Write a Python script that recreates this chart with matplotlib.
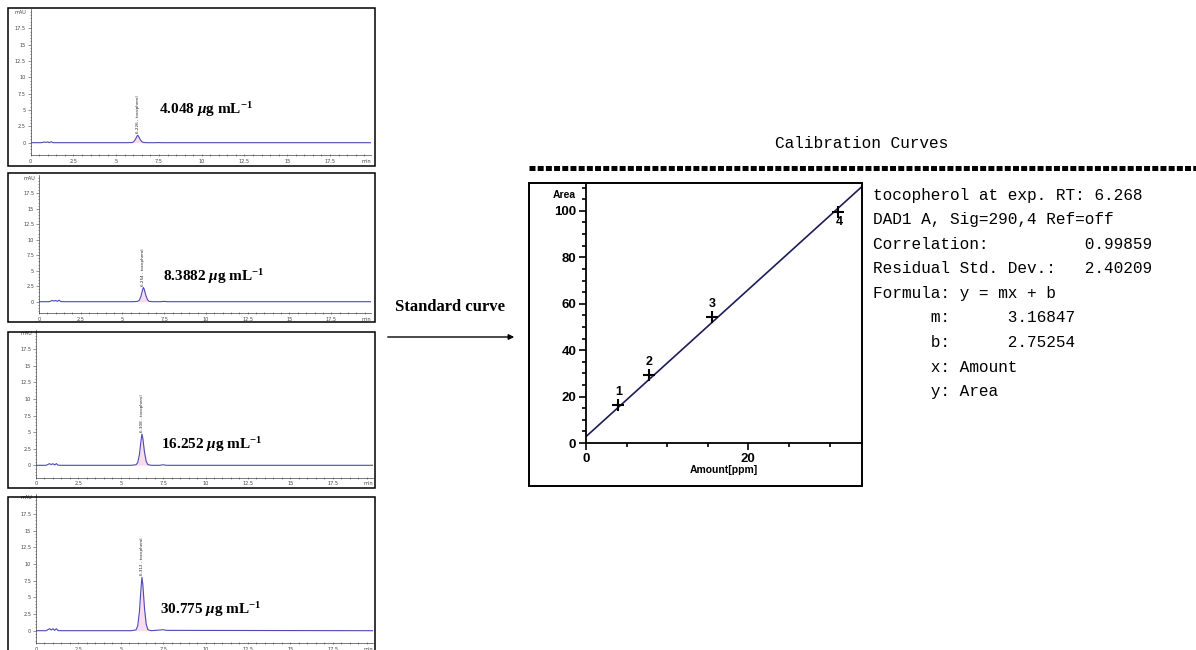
import numpy as np
import matplotlib.pyplot as plt
from matplotlib.lines import Line2D
from matplotlib.patches import Rectangle, FancyArrowPatch
from matplotlib.ticker import MultipleLocator, FixedLocator

W, H = 1196, 650

# chromatogram traces (retention time in min, signal in mAU)
rt = [0.0, 0.6, 0.8, 0.9, 1.0, 1.1, 1.2, 1.3, 1.5, 5.6, 5.9, 6.0, 6.1, 6.2,
      6.25, 6.3, 6.4, 6.5, 6.6, 6.8, 7.3, 7.5, 7.7, 19.9]
sig_1 = [0, 0, 0.1, 0.05, 0.12, 0.0, 0.15, 0.0, 0, 0, 0.02, 0.1, 0.4, 0.9,
         1.15, 1.0, 0.5, 0.15, 0.03, 0, 0, 0.02, 0, 0]
sig_2 = [0, 0, 0.2, 0.1, 0.2, 0.05, 0.25, 0.02, 0, 0, 0.05, 0.2, 0.8, 1.9,
         2.3, 2.0, 1.0, 0.3, 0.05, 0, 0, 0.05, 0, 0]
sig_3 = [0, 0, 0.25, 0.1, 0.25, 0.05, 0.25, 0.02, 0, 0, 0.08, 0.4, 1.6, 3.8,
         4.7, 4.1, 2.0, 0.6, 0.1, 0, 0, 0.08, 0, 0]
sig_4 = [0, 0, 0.3, 0.1, 0.3, 0.05, 0.3, 0.02, 0, 0, 0.12, 0.7, 2.8, 6.5,
         8.0, 7.0, 3.4, 1.0, 0.15, 0, 0.1, 0.15, 0.05, 0]
signals = [sig_1, sig_2, sig_3, sig_4]
peak_names = ['6.226 - tocopherol', '6.254 - tocopherol',
              '6.308 - tocopherol', '6.312 - tocopherol']
conc_labels = ['4.048', '8.3882', '16.252', '30.775']

# calibration points
cal_amount = [4.0, 7.8, 15.5, 31.0]
cal_area = [16.3, 29.4, 54.1, 99.7]
fit_m = 3.16847
fit_b = 2.75254

report_lines = [
    'tocopherol at exp. RT: 6.268',
    'DAD1 A, Sig=290,4 Ref=off',
    'Correlation:          0.99859',
    'Residual Std. Dev.:   2.40209',
    'Formula: y = mx + b',
    '      m:      3.16847',
    '      b:      2.75254',
    '      x: Amount',
    '      y: Area',
]

plt.rcParams['mathtext.fontset'] = 'custom'
plt.rcParams['mathtext.rm'] = 'Liberation Serif:bold'
plt.rcParams['mathtext.it'] = 'Liberation Serif:italic:bold'
plt.rcParams['mathtext.bf'] = 'Liberation Serif:bold'
plt.rcParams['lines.scale_dashes'] = False

fig = plt.figure(figsize=(W / 100, H / 100), dpi=100)


def box(x0, y0, x1, y1, lw=1.0):
    fig.add_artist(Rectangle((x0 / W, 1 - y1 / H), (x1 - x0) / W, (y1 - y0) / H,
                             transform=fig.transFigure, fill=False,
                             ec='black', lw=lw))


def px_axes(l, t, r, b):
    return fig.add_axes([l / W, 1 - b / H, (r - l) / W, (b - t) / H])


def ftext(x, y, s, **kw):
    fig.text(x / W, 1 - y / H, s, **kw)


# frame box, time-zero px, px per min, zero-signal px, px per mAU, label pos
panels = [
    ((8, 8, 375, 166), 30.7, 17.1, 142.7, 6.54, (7.5, 5.0)),
    ((8, 173, 375, 322), 39.0, 16.7, 301.7, 6.2, (7.4, 4.0)),
    ((8, 332, 375, 488), 36.0, 16.95, 465.3, 6.64, (7.4, 3.2)),
    ((8, 497, 375, 662), 36.0, 16.95, 630.7, 6.68, (7.3, 3.1)),
]

t = np.array(rt)
for i, (frame, t0, ppx, zero, ppu, lab) in enumerate(panels):
    box(*frame, lw=1.1)
    ax = px_axes(t0, zero - 20.4 * ppu, t0 + 19.9 * ppx, zero + 1.9 * ppu)
    s = np.array(signals[i])
    ax.plot(t, s, color='#4b4bb5', lw=0.8)
    pk = (t >= 5.9) & (t <= 6.6)
    ax.fill_between(t[pk], 0, s[pk], color='#f0a0d0', alpha=0.35, lw=0)
    ax.set_xlim(0, 19.9)
    ax.set_ylim(-1.9, 20.4)
    for sp in ['top', 'right']:
        ax.spines[sp].set_visible(False)
    for sp in ['left', 'bottom']:
        ax.spines[sp].set_linewidth(0.5)
        ax.spines[sp].set_color('#444444')
    ax.xaxis.set_major_locator(MultipleLocator(2.5))
    ax.xaxis.set_minor_locator(MultipleLocator(0.5))
    ax.yaxis.set_major_locator(FixedLocator(np.arange(0, 17.6, 2.5)))
    ax.yaxis.set_minor_locator(MultipleLocator(0.5))
    ax.xaxis.set_major_formatter(lambda v, p: f'{v:g}')
    ax.yaxis.set_major_formatter(lambda v, p: f'{v:g}')
    ax.tick_params(which='both', labelsize=3.6, colors='#444444', width=0.4,
                   pad=1.5)
    ax.tick_params(which='major', length=2)
    ax.tick_params(which='minor', length=1)
    ax.tick_params(axis='x', which='both', direction='inout')
    ax.patch.set_alpha(0)
    ax.text(-0.25, 19.9, 'mAU', fontsize=3.6, color='#444444',
            ha='right', va='center')
    ax.annotate('min', (19.9, 0), xycoords=('data', 'axes fraction'),
                xytext=(0, -2.5), textcoords='offset points', fontsize=3.6,
                color='#444444', ha='right', va='top')
    ipk = int(np.argmax(s))
    ax.text(t[ipk], s[ipk] + 0.3, peak_names[i], rotation=90, fontsize=3.0,
            ha='center', va='bottom', color='#222222')
    ax.text(lab[0], lab[1], conc_labels[i] + r' $\mu$g mL$^{-1}$',
            fontsize=11, family='Liberation Serif', weight='bold',
            ha='left', va='center')

# arrow and caption
ftext(395, 307, 'Standard curve', fontsize=12, family='Liberation Serif',
      weight='bold', ha='left', va='center')
fig.add_artist(FancyArrowPatch((385 / W, 1 - 337 / H), (517 / W, 1 - 337 / H),
                               transform=fig.transFigure, arrowstyle='-|>',
                               mutation_scale=8, lw=1.0, color='black'))

# calibration report
mono = 'Liberation Mono'
ftext(775, 143, 'Calibration Curves', fontsize=11.6, family=mono,
      ha='left', va='center')
fig.add_artist(Line2D([529 / W, 1], [1 - 167.5 / H] * 2,
                      transform=fig.transFigure, color='black', lw=3.6,
                      dashes=(4.3, 1.6), dash_capstyle='butt'))
for k, line in enumerate(report_lines):
    ftext(873, 195 + 24.6 * k, line, fontsize=11.6, family=mono,
          ha='left', va='center')

box(529, 183, 862, 486, lw=1.4)
cax = px_axes(586, 183, 862, 443)
xs = np.array([0, 34])
cax.plot(xs, fit_m * xs + fit_b, color='#1c1c5a', lw=1.2)
cax.plot(cal_amount, cal_area, '+', color='black', ms=9, mew=1.5)
for k, (x, y) in enumerate(zip(cal_amount, cal_area)):
    if k < 3:
        cax.annotate(str(k + 1), (x, y), xytext=(0, 5), textcoords='offset points',
                     ha='center', va='bottom', fontsize=9, weight='bold',
                     family='Liberation Sans')
    else:
        cax.annotate(str(k + 1), (x, y), xytext=(1, -3), textcoords='offset points',
                     ha='center', va='top', fontsize=9, weight='bold',
                     family='Liberation Sans')
cax.set_xlim(0, 34)
cax.set_ylim(0, 112)
for sp in ['top', 'right']:
    cax.spines[sp].set_visible(False)
for sp in ['left', 'bottom']:
    cax.spines[sp].set_linewidth(1.3)
cax.xaxis.set_major_locator(FixedLocator([0, 20]))
cax.xaxis.set_minor_locator(FixedLocator([5, 10, 15, 25, 30]))
cax.yaxis.set_major_locator(MultipleLocator(20))
cax.yaxis.set_minor_locator(MultipleLocator(5))
cax.tick_params(which='major', length=5, width=1.2, labelsize=9.5, pad=2)
cax.tick_params(which='minor', length=3, width=1.2)
for lbl in cax.get_xticklabels() + cax.get_yticklabels():
    lbl.set_fontweight('bold')
    lbl.set_family('Liberation Sans')
cax.set_xlabel('Amount[ppm]', fontsize=7.5, weight='bold',
               family='Liberation Sans', labelpad=0)
cax.text(-1.2, 107, 'Area', fontsize=7.5, weight='bold',
         family='Liberation Sans', ha='right', va='center')
cax.patch.set_alpha(0)

fig.savefig('out.png', dpi=100)
